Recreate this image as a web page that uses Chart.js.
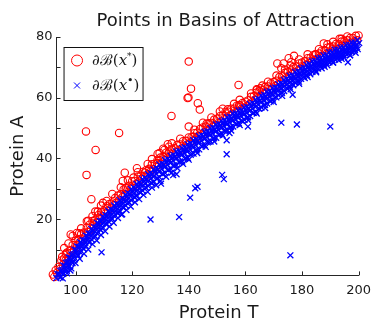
<!DOCTYPE html>
<html>
<head>
<meta charset="utf-8">
<script src="https://cdn.jsdelivr.net/npm/chart.js@4.4.1/dist/chart.umd.min.js"></script>
<style>
  html, body { margin: 0; padding: 0; background: #fff; }
  #wrap { width: 378px; height: 318px; }
</style>
</head>
<body>
<div id="wrap"><canvas id="basins" width="378" height="318"></canvas></div>
<script>
// ticks
const xTicks = [100, 120, 140, 160, 180, 200];
const yTicks = [20, 40, 60, 80];
const yMinorTicks = [10, 30, 50, 70];

// dB(x*) : red circles, upper edge of the band
const starTop = [
  [92,1.8],[93,3.2],[94,4.3],[95,6.4],[96,7.1],[97,9.0],[98,9.7],[99,11.5],[100,12.9],[101,13.4],
  [102,15.1],[103,15.6],[104,17.3],[105,18.2],[106,19.4],[107,19.8],[108,21.3],[109,22.4],[110,22.8],
  [111,24.3],[112,25.0],[113,25.5],[114,27.0],[115,27.8],[116,28.2],[117,29.8],[118,30.4],[119,31.0],
  [120,32.5],[121,32.6],[122,34.0],[123,34.3],[124,35.6],[125,36.2],[126,36.6],[127,38.1],[128,38.3],
  [129,39.6],[130,40.3],[131,40.6],[132,41.9],[133,42.0],[134,43.2],[135,43.4],[136,44.5],[137,44.6],
  [138,45.7],[139,45.8],[140,46.9],[141,47.0],[142,48.3],[143,48.5],[144,49.7],[145,50.2],[146,50.5],
  [147,51.6],[148,51.7],[149,52.8],[150,53.1],[151,53.9],[152,54.1],[153,55.3],[154,55.4],[155,56.4],
  [156,56.4],[157,57.4],[158,57.4],[159,58.3],[160,58.7],[161,59.1],[162,60.3],[163,60.5],[164,61.7],
  [165,62.2],[166,62.5],[167,63.6],[168,63.7],[169,64.8],[170,65.2],[171,65.6],[172,66.8],[173,67.0],
  [174,68.2],[175,68.6],[176,69.0],[177,70.1],[178,70.2],[179,71.3],[180,71.6],[181,72.0],[182,73.0],
  [183,73.1],[184,74.0],[185,74.3],[186,74.6],[187,75.5],[188,75.6],[189,76.5],[190,76.7],[191,76.9],
  [192,77.7],[193,77.7],[194,78.5],[195,78.6],[196,78.9],[197,79.7],[198,79.7],[199,80.4],[200,80.5]
];
const starLow = [
  [92.5,1.0],[93.5,2.4],[94.5,3.6],[95.5,5.0],[96.5,6.4],[97.5,7.5],[98.5,8.9],[99.5,10.0],[100.5,11.5],
  [101.5,12.4],[102.5,13.6],[103.5,14.5],[104.5,15.8],[105.5,16.8],[106.5,17.9],[107.5,18.8],[108.5,19.9],
  [109.5,20.9],[110.5,21.8],[111.5,22.8],[112.5,23.6],[113.5,24.6],[114.5,25.4],[115.5,26.4],[116.5,27.2],
  [117.5,28.2],[118.5,29.0],[119.5,30.1],[120.5,30.8],[121.5,31.7],[122.5,32.4],[123.5,33.3],[124.5,34.0],
  [125.5,34.8],[126.5,35.6],[127.5,36.5],[128.5,37.2],[129.5,38.0],[130.5,38.7],[131.5,39.5],[132.5,40.2],
  [133.5,40.8],[134.5,41.5],[135.5,42.1],[136.5,42.8],[137.5,43.3],[138.5,43.9],[139.5,44.6],[140.5,45.2],
  [141.5,45.9],[142.5,46.6],[143.5,47.3],[144.5,48.0],[145.5,48.6],[146.5,49.3],[147.5,49.8],[148.5,50.5],
  [149.5,51.0],[150.5,51.7],[151.5,52.2],[152.5,52.9],[153.5,53.4],[154.5,54.1],[155.5,54.6],[156.5,55.2],
  [157.5,55.6],[158.5,56.2],[159.5,56.7],[160.5,57.3],[161.5,57.9],[162.5,58.6],[163.5,59.3],[164.5,60.0],
  [165.5,60.6],[166.5,61.3],[167.5,61.8],[168.5,62.5],[169.5,63.0],[170.5,63.8],[171.5,64.4],[172.5,65.2],
  [173.5,65.8],[174.5,66.5],[175.5,67.2],[176.5,67.8],[177.5,68.4],[178.5,69.0],[179.5,69.6],[180.5,70.2],
  [181.5,70.8],[182.5,71.4],[183.5,71.9],[184.5,72.4],[185.5,72.9],[186.5,73.4],[187.5,73.8],[188.5,74.4],
  [189.5,74.8],[190.5,75.2],[191.5,75.6],[192.5,76.0],[193.5,76.4],[194.5,76.8],[195.5,77.2],[196.5,77.6],
  [197.5,78.1],[198.5,78.4],[199.5,78.9]
];
const starAbove = [
  [96,10.5],[97.5,12],[99,14.5],[100.5,15.5],[102,17],[104,19.3],[106,21],[107,22.5],[109,24.5],[111,26],
  [113,28.3],[116,30.5],[118.5,32.8],[122,35.5],[125.5,38.2],[127,39.8],[129,41.5],[131,43.2],[134,45],
  [137,46.5],[142,49.5],[145,51.8],[148,53.5],[151,55.5],[152,56.4],[156,58],[158,59.3],[162,61.4],
  [164,62.8],[166,64],[168,65.3],[171,67.3],[174,69.3],[176,70.6],[179,72.6],[182,74.3],[186,76.0],
  [189,77.6],[191,78.4],[194,79.4],[196,80.2]
];
const starOutliers = [
  [103.7,48.9],[107.1,42.8],[103.9,34.6],[115.4,48.4],[105.6,26.6],[98.3,15.0],[101.3,15.4],[140.0,71.9],
  [140.8,63.0],[139.6,59.9],[139.9,60.1],[143.2,58.2],[143.9,56.1],[133.9,54.0],[140.0,50.5],[157.6,64.2],
  [187.7,77.9],[171.3,71.3],[173.5,71.3],[175.3,73.0],[177.2,73.8],[176.2,71.7],[172.7,69.7],[117.4,35.3],
  [116.7,32.6],[121.7,36.8],[109.7,25.4],[107.9,22.5],[104.5,19.5],[117.7,30.2],[120.5,33.7],[124.5,35.3],
  [128.9,38.5],[129.7,41.8],[132.6,44.7],[133.0,43.9],[131.4,42.8],[141.7,47.1],[146.3,51.4],[153.8,56.2],
  [157.8,57.6],[165.3,63.1],[164.1,62.6],[184.7,74.3],[193.3,79.4],[95.3,7.6],[96.6,8.6]
];

// dB(x•) : blue crosses, lower part of the band
const dotRowD = [
  [93.6,1.9],[94.6,3.0],[95.6,4.8],[96.6,5.7],[97.6,7.4],[98.6,8.3],[99.6,10.0],[100.6,11.0],[101.6,12.4],
  [102.6,13.1],[103.6,14.6],[104.6,15.3],[105.6,16.8],[106.6,17.4],[107.6,18.8],[108.6,19.4],[109.6,20.8],
  [110.6,21.4],[111.6,22.7],[112.6,23.2],[113.6,24.5],[114.6,25.0],[115.6,26.3],[116.6,26.8],[117.6,28.1],
  [118.6,28.6],[119.6,29.9],[120.6,30.4],[121.6,31.6],[122.6,32.0],[123.6,33.2],[124.6,33.6],[125.6,34.8],
  [126.6,35.2],[127.6,36.4],[128.6,36.8],[129.6,38.0],[130.6,38.4],[131.6,39.5],[132.6,39.8],[133.6,40.9],
  [134.6,41.2],[135.6,42.3],[136.6,42.5],[137.6,43.5],[138.6,43.7],[139.6,44.7],[140.6,45.0],[141.6,46.0],
  [142.6,46.3],[143.6,47.4],[144.6,47.7],[145.6,48.8],[146.6,49.0],[147.6,50.0],[148.6,50.2],[149.6,51.2],
  [150.6,51.4],[151.6,52.4],[152.6,52.6],[153.6,53.6],[154.6,53.8],[155.6,54.8],[156.6,54.9],[157.6,55.8],
  [158.6,55.9],[159.6,56.8],[160.6,57.0],[161.6,58.0],[162.6,58.3],[163.6,59.4],[164.6,59.7],[165.6,60.8],
  [166.6,61.0],[167.6,62.0],[168.6,62.2],[169.6,63.2],[170.6,63.4],[171.6,64.5],[172.6,64.8],[173.6,65.9],
  [174.6,66.2],[175.6,67.3],[176.6,67.5],[177.6,68.5],[178.6,68.7],[179.6,69.7],[180.6,69.9],[181.6,70.9],
  [182.6,71.1],[183.6,72.0],[184.6,72.1],[185.6,73.0],[186.6,73.1],[187.6,74.0],[188.6,74.1],[189.6,75.0],
  [190.6,75.0],[191.6,75.8],[192.6,75.8],[193.6,76.6],[194.6,76.6],[195.6,77.4],[196.6,77.4],[197.6,78.2],
  [198.6,78.2],[199.6,79.0]
];
const dotRowA = [
  [93.2,0.6],[94.2,2.0],[95.2,3.2],[96.2,4.7],[97.2,5.8],[98.2,7.3],[99.2,8.4],[100.2,9.9],[101.2,10.8],
  [102.2,12.1],[103.2,13.0],[104.2,14.3],[105.2,15.2],[106.2,16.4],[107.2,17.2],[108.2,18.5],[109.2,19.3],
  [110.2,20.4],[111.2,21.1],[112.2,22.2],[113.2,22.9],[114.2,24.0],[115.2,24.7],[116.2,25.8],[117.2,26.5],
  [118.2,27.6],[119.2,28.2],[120.2,29.4],[121.2,30.0],[122.2,31.0],[123.2,31.6],[124.2,32.6],[125.2,33.2],
  [126.2,34.2],[127.2,34.8],[128.2,35.8],[129.2,36.4],[130.2,37.4],[131.2,37.9],[132.2,38.8],[133.2,39.3],
  [134.2,40.2],[135.2,40.7],[136.2,41.5],[137.2,41.9],[138.2,42.7],[139.2,43.1],[140.2,43.9],[141.2,44.4],
  [142.2,45.3],[143.2,45.8],[144.2,46.7],[145.2,47.2],[146.2,48.0],[147.2,48.4],[148.2,49.2],[149.2,49.6],
  [150.2,50.4],[151.2,50.8],[152.2,51.6],[153.2,52.0],[154.2,52.8],[155.2,53.2],[156.2,53.9],[157.2,54.2],
  [158.2,54.9],[159.2,55.2],[160.2,55.9],[161.2,56.4],[162.2,57.3],[163.2,57.8],[164.2,58.7],[165.2,59.2],
  [166.2,60.0],[167.2,60.4],[168.2,61.2],[169.2,61.6],[170.2,62.4],[171.2,62.9],[172.2,63.8],[173.2,64.3],
  [174.2,65.2],[175.2,65.7],[176.2,66.5],[177.2,66.9],[178.2,67.7],[179.2,68.1],[180.2,68.9],[181.2,69.3],
  [182.2,70.1],[183.2,70.4],[184.2,71.1],[185.2,71.4],[186.2,72.1],[187.2,72.4],[188.2,73.1],[189.2,73.4],
  [190.2,74.0],[191.2,74.2],[192.2,74.8],[193.2,75.0],[194.2,75.6],[195.2,75.8],[196.2,76.4],[197.2,76.6],
  [198.2,77.2],[199.2,77.4],[200.2,78.0]
];
const dotRowE = [
  [94.45,1.0],[95.45,2.5],[96.45,3.8],[97.45,5.0],[98.45,6.4],[99.45,7.6],[100.45,9.0],[101.45,10.0],
  [102.45,11.3],[103.45,12.2],[104.45,13.5],[105.45,14.4],[106.45,15.5],[107.45,16.4],[108.45,17.5],
  [109.45,18.4],[110.45,19.5],[111.45,20.3],[112.45,21.3],[113.45,22.1],[114.45,23.1],[115.45,23.9],
  [116.45,24.9],[117.45,25.7],[118.45,26.7],[119.45,27.5],[120.45,28.5],[121.45,29.2],[122.45,30.1],
  [123.45,30.8],[124.45,31.7],[125.45,32.4],[126.45,33.3],[127.45,34.0],[128.45,34.9],[129.45,35.6],
  [130.45,36.5],[131.45,37.1],[132.45,37.9],[133.45,38.5],[134.45,39.3],[135.45,39.9],[136.45,40.6],
  [137.45,41.1],[138.45,41.8],[139.45,42.3],[140.45,43.0],[141.45,43.6],[142.45,44.4],[143.45,45.0],
  [144.45,45.8],[145.45,46.4],[146.45,47.1],[147.45,47.6],[148.45,48.3],[149.45,48.8],[150.45,49.5],
  [151.45,50.0],[152.45,50.7],[153.45,51.2],[154.45,51.9],[155.45,52.4],[156.45,53.0],[157.45,53.4],
  [158.45,54.0],[159.45,54.4],[160.45,55.0],[161.45,55.6],[162.45,56.4],[163.45,57.0],[164.45,57.8],
  [165.45,58.4],[166.45,59.1],[167.45,59.6],[168.45,60.3],[169.45,60.8],[170.45,61.5],[171.45,62.1],
  [172.45,62.9],[173.45,63.5],[174.45,64.3],[175.45,64.9],[176.45,65.6],[177.45,66.1],[178.45,66.8],
  [179.45,67.3],[180.45,68.0],[181.45,68.5],[182.45,69.2],[183.45,69.6],[184.45,70.2],[185.45,70.6],
  [186.45,71.2],[187.45,71.6],[188.45,72.2],[189.45,72.6],[190.45,73.1],[191.45,73.4],[192.45,73.9],
  [193.45,74.2],[194.45,74.7],[195.45,75.0],[196.45,75.5],[197.45,75.8],[198.45,76.3],[199.45,76.6]
];
const dotRowB = [
  [94.7,0.8],[95.7,2.0],[96.7,3.4],[97.7,4.3],[98.7,5.8],[99.7,6.7],[100.7,8.2],[101.7,9.1],[102.7,10.4],
  [103.7,11.2],[104.7,12.5],[105.7,13.3],[106.7,14.6],[107.7,15.3],[108.7,16.6],[109.7,17.3],[110.7,18.6],
  [111.7,19.2],[112.7,20.4],[113.7,21.0],[114.7,22.2],[115.7,22.8],[116.7,24.0],[117.7,24.5],[118.7,25.7],
  [119.7,26.2],[120.7,27.4],[121.7,27.8],[122.7,29.0],[123.7,29.4],[124.7,30.5],[125.7,30.9],[126.7,32.0],
  [127.7,32.4],[128.7,33.4],[129.7,33.8],[130.7,34.9],[131.7,35.2],[132.7,36.2],[133.7,36.5],[134.7,37.5],
  [135.7,37.8],[136.7,38.7],[137.7,39.0],[138.7,39.9],[139.7,40.2],[140.7,41.2],[141.7,41.6],[142.7,42.6],
  [143.7,43.0],[144.7,44.0],[145.7,44.3],[146.7,45.3],[147.7,45.6],[148.7,46.5],[149.7,46.8],[150.7,47.8],
  [151.7,48.1],[152.7,49.0],[153.7,49.3],[154.7,50.2],[155.7,50.5],[156.7,51.3],[157.7,51.6],[158.7,52.4],
  [159.7,52.7],[160.7,53.5],[161.7,54.0],[162.7,55.0],[163.7,55.4],[164.7,56.4],[165.7,56.8],[166.7,57.7],
  [167.7,58.1],[168.7,59.0],[169.7,59.4],[170.7,60.3],[171.7,60.8],[172.7,61.8],[173.7,62.2],[174.7,63.2],
  [175.7,63.6],[176.7,64.5],[177.7,64.9],[178.7,65.8],[179.7,66.2],[180.7,67.0],[181.7,67.4],[182.7,68.2],
  [183.7,68.5],[184.7,69.3],[185.7,69.6],[186.7,70.4],[187.7,70.7],[188.7,71.4],[189.7,71.7],[190.7,72.3],
  [191.7,72.6],[192.7,73.2],[193.7,73.4],[194.7,74.0],[195.7,74.3],[196.7,74.9],[197.7,75.1],[198.7,75.7],
  [199.7,76.0]
];
const dotRowF = [
  [96.95,3.0],[98.95,5.6],[100.95,8.0],[102.95,10.2],[104.95,12.4],[106.95,14.3],[108.95,16.4],[110.95,18.2],
  [112.95,20.0],[114.95,21.9],[116.95,23.7],[118.95,25.5],[120.95,27.1],[122.95,28.7],[124.95,30.3],
  [126.95,31.9],[128.95,33.5],[130.95,35.0],[132.95,36.4],[134.95,37.8],[136.95,39.0],[138.95,40.2],
  [140.95,41.6],[142.95,43.0],[144.95,44.4],[146.95,45.6],[148.95,46.8],[150.95,48.0],[152.95,49.2],
  [154.95,50.4],[156.95,51.4],[158.95,52.4],[160.95,53.6],[162.95,55.0],[164.95,56.4],[166.95,57.6],
  [168.95,58.8],[170.95,60.1],[172.95,61.5],[174.95,62.9],[176.95,64.1],[178.95,65.3],[180.95,66.5],
  [182.95,67.7],[184.95,68.7],[186.95,69.7],[188.95,70.7],[190.95,71.6],[192.95,72.4],[194.95,73.2],
  [196.95,74.0],[198.95,74.8]
];
const dotRowC = [
  [95.5,0.5],[97,2.2],[98.5,3.8],[100,5.6],[101.5,7.0],[103,8.6],[104.5,10.0],[106,11.8],[107.5,13.0],
  [109,14.8],[110.5,16.0],[112,17.6],[113.5,18.8],[115,20.4],[116.5,21.6],[118,23.0],[119.5,24.2],
  [121,25.6],[122.5,26.6],[124,28.0],[125.5,29.0],[127,30.4],[128.5,31.2],[130,32.6],[132,34.0],[134,35.4],
  [136,36.8],[138,38.2],[140,39.6],[143,41.8],[146,43.8],[149,45.6],[152,47.6],[155,49.2],[158,51.0],
  [161,52.6],[164,54.8],[167,56.6],[170,58.6],[173,60.6],[176,62.8],[179,64.6],[182,66.8],[185,68.4],
  [188,70.2],[191,71.6],[194,72.8],[197,74.0]
];
const dotOutliers = [
  [109.2,9.1],[98.2,3.1],[126.5,19.9],[136.6,20.7],[116.2,21.5],[140.5,27.1],[142.3,30.2],[143.1,30.7],
  [130.2,31.7],[134.5,34.5],[135.7,34.8],[151.8,34.6],[152.4,33.2],[153.4,41.4],[153.4,46.0],[154.4,48.4],
  [160.9,50.5],[172.7,51.8],[178.2,51.2],[190.0,50.5],[175.9,8.1],[176.7,61.0],[196.2,71.7],[193.5,73.8]
];

const toXY = pts => pts.map(([x, y]) => ({ x, y }));
const starPoints = toXY([...starLow, ...starTop, ...starAbove, ...starOutliers]);
const dotPoints = toXY([...dotRowD, ...dotRowA, ...dotRowE, ...dotRowB, ...dotRowF, ...dotRowC, ...dotOutliers]);

const RED = '#ff0000';
const BLUE = '#0000ff';
const INK = '#1a1a1a';
const AXIS = '#262626';

// inward ticks, titles and the boxed legend
const decorations = {
  id: 'decorations',
  afterDraw(chart) {
    const { ctx, chartArea: a, scales } = chart;
    const xs = scales.x, ys = scales.y;
    ctx.save();
    ctx.strokeStyle = AXIS;
    ctx.lineWidth = 1;
    ctx.beginPath();
    xTicks.forEach(v => {
      const px = Math.round(xs.getPixelForValue(v)) + 0.5;
      ctx.moveTo(px, a.bottom); ctx.lineTo(px, a.bottom - 4);
    });
    [...yTicks, ...yMinorTicks].forEach(v => {
      const py = Math.round(ys.getPixelForValue(v)) + 0.5;
      ctx.moveTo(a.left, py); ctx.lineTo(a.left + 4, py);
    });
    ctx.stroke();

    // titles
    ctx.fillStyle = INK;
    ctx.font = '18px "DejaVu Sans"';
    ctx.textAlign = 'center';
    ctx.textBaseline = 'alphabetic';
    const cx = (a.left + a.right) / 2;
    ctx.fillText('Points in Basins of Attraction', cx + 18, 25.5);
    ctx.fillText('Protein T', cx + 11, 317.5);
    ctx.save();
    ctx.translate(23, (a.top + a.bottom) / 2);
    ctx.rotate(-Math.PI / 2);
    ctx.fillText('Protein A', 0, 0);
    ctx.restore();

    // legend
    const lx = a.left + 7.5, ly = a.top + 10.5, lw = 79, lh = 53;
    ctx.fillStyle = '#fff';
    ctx.fillRect(lx, ly, lw, lh);
    ctx.strokeStyle = '#111';
    ctx.strokeRect(lx, ly, lw, lh);

    const mx = lx + 13, r1 = ly + 13, r2 = ly + 38;
    ctx.strokeStyle = RED;
    ctx.beginPath(); ctx.arc(mx, r1, 5.5, 0, Math.PI * 2); ctx.stroke();
    ctx.strokeStyle = BLUE;
    ctx.beginPath();
    ctx.moveTo(mx - 3, r2 - 3); ctx.lineTo(mx + 3, r2 + 3);
    ctx.moveTo(mx + 3, r2 - 3); ctx.lineTo(mx - 3, r2 + 3);
    ctx.stroke();

    const label = (y, sup, supSize) => {
      let x = lx + 28;
      ctx.textAlign = 'left';
      ctx.textBaseline = 'middle';
      ctx.fillStyle = INK;
      const part = (txt, font, dy) => {
        ctx.font = font;
        ctx.fillText(txt, x, y + (dy || 0));
        x += ctx.measureText(txt).width;
      };
      part('\u2202\u212C(', '15px "DejaVu Serif"');
      part('x', 'italic 15px "DejaVu Serif"');
      part(sup, supSize + 'px "DejaVu Serif"', -5);
      part(')', '15px "DejaVu Serif"');
    };
    label(r1 + 1, '*', 9);
    label(r2 + 1, '\u2022', 11);
    ctx.restore();
  }
};

new Chart(document.getElementById('basins'), {
  type: 'scatter',
  data: {
    datasets: [
      {
        label: '\u2202B(x\u2022)',
        data: dotPoints,
        order: 0,
        clip: false,
        pointStyle: 'crossRot',
        pointRadius: 4.2,
        borderColor: BLUE,
        borderWidth: 1.3,
        backgroundColor: BLUE
      },
      {
        label: '\u2202B(x*)',
        data: starPoints,
        order: 1,
        clip: false,
        pointStyle: 'circle',
        pointRadius: 3.7,
        borderColor: RED,
        borderWidth: 1.1,
        backgroundColor: 'rgba(0,0,0,0)'
      }
    ]
  },
  options: {
    responsive: false,
    animation: false,
    events: [],
    layout: { padding: { top: 37, right: 17, bottom: 13, left: 32 } },
    plugins: {
      legend: { display: false },
      tooltip: { enabled: false },
      title: { display: false }
    },
    scales: {
      x: {
        type: 'linear',
        min: 93.3,
        max: 200,
        afterBuildTicks: s => { s.ticks = xTicks.map(v => ({ value: v })); },
        grid: { display: false, drawTicks: false },
        border: { display: true, color: AXIS, width: 1 },
        ticks: { font: { family: 'DejaVu Sans', size: 13 }, color: INK, padding: 7, maxRotation: 0 }
      },
      y: {
        type: 'linear',
        min: 1.5,
        max: 80,
        afterBuildTicks: s => { s.ticks = yTicks.map(v => ({ value: v })); },
        grid: { display: false, drawTicks: false },
        border: { display: true, color: AXIS, width: 1 },
        ticks: { font: { family: 'DejaVu Sans', size: 13 }, color: INK, padding: 4 }
      }
    }
  },
  plugins: [decorations]
});
</script>
</body>
</html>
